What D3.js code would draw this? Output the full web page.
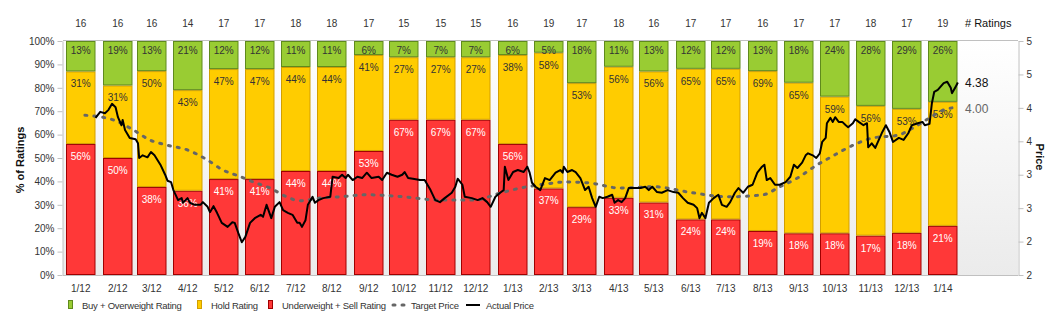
<!DOCTYPE html>
<html>
<head>
<meta charset="utf-8">
<script src="https://cdn.jsdelivr.net/npm/d3@7"></script>
<style>
  body { margin: 0; background: #fff; }
  svg { display: block; font-family: "Liberation Sans", Arial, sans-serif; }
</style>
</head>
<body>
<svg id="chart" width="1053" height="322"></svg>
<script>
// Monthly analyst rating mix (percent of ratings) and number of ratings
const months = ['1/12', '2/12', '3/12', '4/12', '5/12', '6/12', '7/12', '8/12', '9/12', '10/12', '11/12', '12/12',
  '1/13', '2/13', '3/13', '4/13', '5/13', '6/13', '7/13', '8/13', '9/13', '10/13', '11/13', '12/13', '1/14'];
const ratingCounts = [16, 16, 16, 14, 17, 17, 18, 18, 17, 15, 15, 15, 16, 19, 17, 18, 16, 17, 17, 16, 17, 17, 18, 17, 19];
const buyPct = [13, 19, 13, 21, 12, 12, 11, 11, 6, 7, 7, 7, 6, 5, 18, 11, 13, 12, 12, 13, 18, 24, 28, 29, 26];
const holdPct = [31, 31, 50, 43, 47, 47, 44, 44, 41, 27, 27, 27, 38, 58, 53, 56, 56, 65, 65, 69, 65, 59, 56, 53, 53];
const sellPct = [56, 50, 38, 36, 41, 41, 44, 44, 53, 67, 67, 67, 56, 37, 29, 33, 31, 24, 24, 19, 18, 18, 17, 18, 21];

// Price series: [days since 1 Jan 2012, price]
const actualPrice = [
  [25, 3.85], [29, 3.94], [33, 3.92], [36, 3.97], [39, 4.06], [42, 4.01], [44, 3.86], [47, 3.74], [48, 3.82], [50, 3.67],
  [54, 3.55], [59, 3.53], [61, 3.47], [62, 3.25], [65, 3.29], [69, 3.26], [72, 3.34], [75, 3.29], [80, 3.15], [84, 3.00],
  [86, 2.91], [89, 2.89], [91, 2.77], [95, 2.62], [98, 2.65], [99, 2.58], [103, 2.65], [105, 2.58], [109, 2.55], [114, 2.55],
  [116, 2.59], [120, 2.52], [122, 2.44], [125, 2.53], [128, 2.43], [132, 2.28], [137, 2.22], [141, 2.29], [143, 2.28], [146, 2.13],
  [149, 1.99], [152, 2.07], [156, 2.28], [160, 2.35], [165, 2.40], [167, 2.37], [170, 2.55], [174, 2.35], [177, 2.52], [181, 2.59],
  [184, 2.47], [188, 2.43], [192, 2.40], [196, 2.28], [198, 2.28], [200, 2.22], [203, 2.32], [205, 2.55], [209, 2.67], [211, 2.58],
  [214, 2.62], [218, 2.65], [224, 2.67], [226, 2.97], [231, 2.95], [234, 3.00], [237, 2.95], [239, 3.00], [243, 2.92], [247, 2.97],
  [251, 2.95], [255, 3.03], [259, 2.95], [265, 2.97], [268, 2.92], [272, 3.03], [276, 3.00], [281, 2.97], [285, 3.00], [287, 3.04],
  [290, 2.95], [294, 2.94], [300, 2.92], [304, 2.92], [309, 2.77], [313, 2.62], [317, 2.59], [321, 2.65], [327, 2.73], [330, 2.82],
  [332, 2.94], [336, 2.85], [338, 2.67], [344, 2.65], [349, 2.62], [353, 2.65], [357, 2.59], [360, 2.52], [364, 2.67], [368, 2.73],
  [371, 2.77], [372, 3.12], [375, 2.92], [379, 3.04], [383, 3.07], [388, 3.04], [391, 3.12], [393, 3.03], [395, 2.88], [398, 2.82],
  [402, 2.77], [406, 2.95], [410, 2.92], [415, 3.03], [419, 3.07], [421, 3.03], [422, 3.12], [425, 3.04], [429, 3.07], [432, 3.04],
  [436, 2.95], [440, 2.77], [443, 2.82], [446, 2.65], [449, 2.52], [452, 2.67], [455, 2.65], [459, 2.67], [463, 2.70], [465, 2.58],
  [468, 2.62], [471, 2.59], [474, 2.65], [477, 2.80], [483, 2.80], [487, 2.80], [491, 2.82], [494, 2.77], [497, 2.82], [501, 2.74],
  [505, 2.73], [510, 2.77], [515, 2.74], [519, 2.73], [523, 2.65], [527, 2.58], [532, 2.55], [535, 2.50], [537, 2.35], [539, 2.43],
  [542, 2.35], [545, 2.58], [549, 2.65], [553, 2.70], [556, 2.55], [560, 2.52], [563, 2.59], [567, 2.73], [570, 2.80], [574, 2.73],
  [578, 2.82], [582, 2.85], [586, 3.03], [590, 3.12], [592, 3.15], [594, 2.92], [597, 2.95], [601, 2.85], [605, 2.85], [610, 2.89],
  [614, 2.97], [617, 3.15], [620, 3.10], [624, 3.18], [627, 3.29], [629, 3.32], [633, 3.29], [636, 3.25], [639, 3.32], [641, 3.49],
  [644, 3.55], [645, 3.77], [648, 3.85], [650, 3.79], [652, 3.86], [655, 3.79], [658, 3.79], [661, 3.74], [663, 3.71], [667, 3.77],
  [669, 3.83], [672, 3.79], [676, 3.74], [679, 3.77], [680, 3.41], [683, 3.47], [686, 3.40], [689, 3.52], [692, 3.64], [695, 3.74],
  [698, 3.64], [701, 3.49], [706, 3.55], [710, 3.52], [714, 3.62], [717, 3.74], [722, 3.77], [726, 3.79], [728, 3.74], [732, 3.76],
  [734, 4.07], [736, 4.24], [739, 4.27], [744, 4.37], [747, 4.39], [750, 4.30], [751, 4.22], [754, 4.31], [756, 4.38]
];
const targetPrice = [
  [16, 3.89], [40, 3.82], [56, 3.68], [71, 3.52], [86, 3.44], [103, 3.37], [118, 3.24], [133, 3.07], [148, 2.97], [159, 2.89],
  [173, 2.80], [187, 2.67], [198, 2.61], [215, 2.65], [232, 2.67], [255, 2.70], [286, 2.67], [317, 2.62], [347, 2.62], [365, 2.71],
  [385, 2.80], [406, 2.86], [423, 2.89], [442, 2.88], [470, 2.80], [498, 2.82], [531, 2.73], [561, 2.67], [591, 2.70], [605, 2.82],
  [620, 2.95], [637, 3.15], [648, 3.26], [667, 3.44], [684, 3.55], [705, 3.59], [718, 3.70], [733, 3.86], [744, 3.97], [751, 4.00]
];
const priceTicks = [1.5, 2, 2.5, 3, 3.5, 4, 4.5, 5];

const colors = {
  buy: '#99cc33', buyStroke: '#5f8a1c',
  hold: '#ffcc00', holdStroke: '#d29f00',
  sell: '#ff3838', sellStroke: '#a00000',
  target: '#666666', actual: '#000000',
  axis: '#c0c0c0', text: '#333333'
};

const svg = d3.select('#chart');
const plotLeft = 63, plotRight = 1018, plotTop = 41, plotBottom = 275;
const barWidth = 29.5;

const epoch = new Date(2012, 0, 1);
const dayDate = d => d3.timeDay.offset(epoch, d);
const monthDate = label => {
  const [m, y] = label.split('/');
  return new Date(2000 + +y, +m - 1, 1);
};

// Scales
const x = d3.scaleTime()
  .domain([new Date(2011, 11, 29), new Date(2014, 2, 18)])
  .range([plotLeft - 0.5, plotRight]);
const yPct = d3.scaleLinear().domain([0, 1]).range([plotBottom, plotTop]);
const yPrice = d3.scaleLinear().domain([1.5, 5]).range([plotBottom, plotTop]);

// Plot background
const grad = svg.append('defs').append('linearGradient')
  .attr('id', 'bg').attr('x1', 0).attr('y1', 0).attr('x2', 0).attr('y2', 1);
grad.append('stop').attr('offset', '0%').attr('stop-color', '#ffffff');
grad.append('stop').attr('offset', '100%').attr('stop-color', '#ebebeb');

svg.append('rect')
  .attr('x', plotLeft).attr('y', plotTop)
  .attr('width', plotRight - plotLeft).attr('height', plotBottom - plotTop)
  .attr('fill', 'url(#bg)');

svg.append('line')
  .attr('x1', plotLeft).attr('x2', plotRight)
  .attr('y1', plotTop - 0.5).attr('y2', plotTop - 0.5)
  .attr('stroke', colors.axis);

// Stacked rating bars
const rows = months.map((m, i) => ({
  month: m, date: monthDate(m),
  sell: sellPct[i], hold: holdPct[i], buy: buyPct[i]
}));
const keys = ['sell', 'hold', 'buy'];
const series = d3.stack().keys(keys).offset(d3.stackOffsetExpand)(rows);

const layer = svg.selectAll('.layer')
  .data(series)
  .enter()
  .append('g')
  .attr('class', 'layer');

layer.selectAll('rect')
  .data(d => d.map(s => ({ key: d.key, s })))
  .enter()
  .append('rect')
  .attr('x', d => Math.round(x(d.s.data.date)) + 0.5)
  .attr('y', d => yPct(d.s[1]) + 0.5)
  .attr('width', barWidth - 1)
  .attr('height', d => Math.max(0, yPct(d.s[0]) - yPct(d.s[1]) - 1))
  .attr('fill', d => colors[d.key])
  .attr('stroke', d => colors[d.key + 'Stroke'])
  .attr('stroke-width', 1);

layer.selectAll('text')
  .data(d => d.map(s => ({ key: d.key, s })))
  .enter()
  .append('text')
  .attr('x', d => Math.round(x(d.s.data.date)) + barWidth / 2)
  .attr('y', d => yPct(d.s[1]) + (d.key === 'buy' ? 13 : 16))
  .attr('text-anchor', 'middle')
  .style('font-size', '10px')
  .style('fill', d => d.key === 'sell' ? '#ffffff' : colors.text)
  .text(d => d.s.data[d.key] + '%');

// Number of ratings above each bar
svg.selectAll('.count')
  .data(rows)
  .enter()
  .append('text')
  .attr('class', 'count')
  .attr('x', d => Math.round(x(d.date)) + barWidth / 2)
  .attr('y', 27)
  .attr('text-anchor', 'middle')
  .style('font-size', '10px')
  .style('fill', colors.text)
  .text((d, i) => ratingCounts[i]);

svg.append('text')
  .attr('x', 965).attr('y', 27)
  .style('font-size', '11px')
  .style('fill', '#111')
  .text('# Ratings');

// Month labels
svg.append('line')
  .attr('x1', plotLeft).attr('x2', plotRight)
  .attr('y1', plotBottom + 0.5).attr('y2', plotBottom + 0.5)
  .attr('stroke', colors.axis);

svg.selectAll('.month')
  .data(rows)
  .enter()
  .append('text')
  .attr('class', 'month')
  .attr('x', d => Math.round(x(d.date)) + barWidth / 2)
  .attr('y', 292)
  .attr('text-anchor', 'middle')
  .style('font-size', '10px')
  .style('fill', colors.text)
  .text(d => d.month);

// Price lines
const priceLine = d3.line()
  .x(d => x(dayDate(d[0])))
  .y(d => yPrice(d[1]));

svg.append('path')
  .datum(targetPrice)
  .attr('fill', 'none')
  .attr('stroke', colors.target)
  .attr('stroke-width', 3)
  .attr('stroke-linecap', 'round')
  .attr('stroke-dasharray', '2,7')
  .attr('d', priceLine.curve(d3.curveMonotoneX));

svg.append('path')
  .datum(actualPrice)
  .attr('fill', 'none')
  .attr('stroke', colors.actual)
  .attr('stroke-width', 2)
  .attr('stroke-linejoin', 'round')
  .attr('d', priceLine.curve(d3.curveLinear));

// Last values
const lastActual = actualPrice[actualPrice.length - 1][1];
const lastTarget = targetPrice[targetPrice.length - 1][1];
svg.append('text')
  .attr('x', 965).attr('y', yPrice(lastActual) + 5)
  .style('font-size', '12px')
  .style('fill', '#111')
  .text(lastActual.toFixed(2));
svg.append('text')
  .attr('x', 965).attr('y', yPrice(lastTarget) + 5)
  .style('font-size', '12px')
  .style('fill', '#666')
  .text(lastTarget.toFixed(2));

// Axes
const leftAxis = svg.append('g')
  .attr('transform', `translate(${plotLeft - 0.5},0)`)
  .call(d3.axisLeft(yPct)
    .tickValues(d3.range(0, 1.01, 0.1))
    .tickFormat(d3.format('.0%'))
    .tickSize(5).tickSizeOuter(0).tickPadding(3));

const rightAxis = svg.append('g')
  .attr('transform', `translate(${plotRight + 0.5},0)`)
  .call(d3.axisRight(yPrice)
    .tickValues(priceTicks)
    .tickFormat(d3.format('.0f'))
    .tickSize(5).tickSizeOuter(0).tickPadding(3));

[leftAxis, rightAxis].forEach(g => {
  g.select('.domain').attr('stroke', colors.axis);
  g.selectAll('.tick line').attr('stroke', colors.axis);
  g.selectAll('.tick text')
    .style('font-size', '10px')
    .style('font-family', '"Liberation Sans", Arial, sans-serif')
    .style('fill', colors.text);
});

svg.append('text')
  .attr('transform', 'translate(24,160) rotate(-90)')
  .attr('text-anchor', 'middle')
  .style('font-size', '11px')
  .style('font-weight', 'bold')
  .style('fill', '#111')
  .text('% of Ratings');

svg.append('text')
  .attr('transform', 'translate(1036,157) rotate(90)')
  .attr('text-anchor', 'middle')
  .style('font-size', '11px')
  .style('font-weight', 'bold')
  .style('fill', '#111')
  .text('Price');

// Legend
const legendItems = [
  { label: 'Buy + Overweight Rating', type: 'box', fill: colors.buy, stroke: colors.buyStroke, x: 68 },
  { label: 'Hold Rating', type: 'box', fill: colors.hold, stroke: colors.holdStroke, x: 197 },
  { label: 'Underweight + Sell Rating', type: 'box', fill: colors.sell, stroke: colors.sellStroke, x: 268 },
  { label: 'Target Price', type: 'dash', x: 391 },
  { label: 'Actual Price', type: 'line', x: 466 }
];

const legend = svg.append('g').attr('transform', 'translate(0,305)');
legendItems.forEach(item => {
  const g = legend.append('g').attr('transform', `translate(${item.x},0)`);
  let textX;
  if (item.type === 'box') {
    g.append('rect')
      .attr('x', 0.5).attr('y', -4.5)
      .attr('width', 4).attr('height', 8)
      .attr('fill', item.fill)
      .attr('stroke', item.stroke);
    textX = 14;
  } else {
    g.append('line')
      .attr('x1', item.type === 'dash' ? 2 : 0).attr('x2', 14)
      .attr('y1', 0).attr('y2', 0)
      .attr('stroke', item.type === 'dash' ? colors.target : colors.actual)
      .attr('stroke-width', item.type === 'dash' ? 3 : 2)
      .attr('stroke-linecap', item.type === 'dash' ? 'round' : 'butt')
      .attr('stroke-dasharray', item.type === 'dash' ? '2,7' : null);
    textX = 20;
  }
  g.append('text')
    .attr('x', textX).attr('y', 4)
    .style('font-size', '9.5px')
    .style('letter-spacing', '-0.25px')
    .style('fill', colors.text)
    .text(item.label);
});
</script>
</body>
</html>
